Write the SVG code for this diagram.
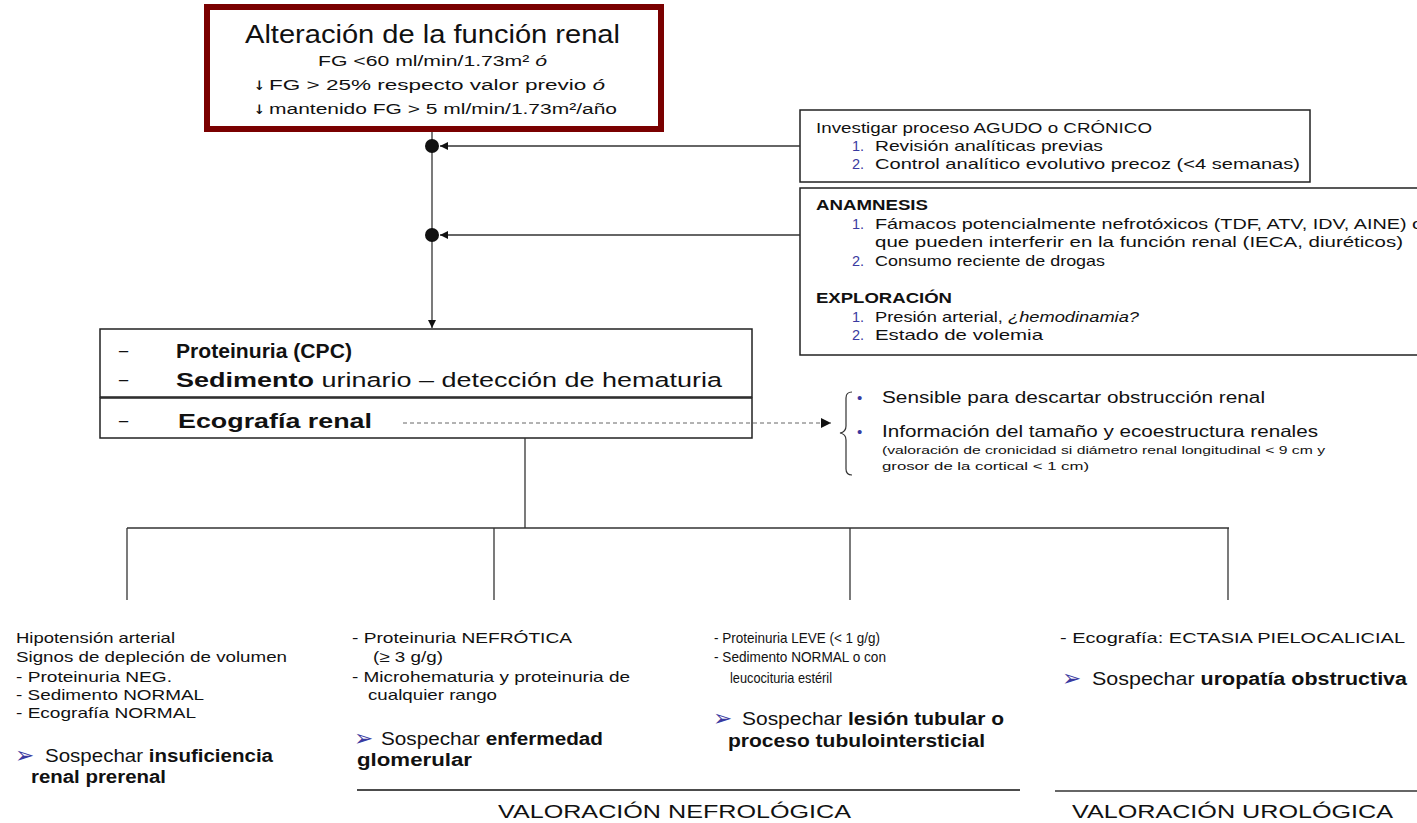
<svg xmlns="http://www.w3.org/2000/svg" width="1417" height="823" viewBox="0 0 1417 823">
<defs>
<style>
text{font-family:"Liberation Sans",Arial,sans-serif;fill:#111}
.b{font-weight:bold}
.num{fill:#3a3aa0}
.box{fill:#fff;stroke:#222;stroke-width:1.5}
.ln{stroke:#333;stroke-width:1.3;fill:none}
.s14{font-size:14.5px}
.s15{font-size:15px}
.dn{font-family:"DejaVu Sans",sans-serif;font-weight:bold;font-size:13px}
.arr{fill:#3a3aa0;font-family:"DejaVu Sans",sans-serif;font-size:23px}
</style>
<marker id="ah" viewBox="0 0 10 10" refX="10" refY="5" markerWidth="8" markerHeight="8" markerUnits="userSpaceOnUse" orient="auto"><path d="M0,0 L10,5 L0,10 z" fill="#111"/></marker>
<marker id="ahs" viewBox="0 0 10 10" refX="10" refY="5" markerWidth="10" markerHeight="10" markerUnits="userSpaceOnUse" orient="auto"><path d="M0,0 L10,5 L0,10 z" fill="#111"/></marker>
</defs>
<rect width="1417" height="823" fill="#fff"/>

<g id="node-alteracion">
<rect x="207" y="7" width="454" height="122" fill="#fff" stroke="#7a0000" stroke-width="6"/>
<text x="245" y="43" font-size="25" textLength="375" lengthAdjust="spacingAndGlyphs">Alteración de la función renal</text>
<text x="318" y="66" font-size="15.5" textLength="229" lengthAdjust="spacingAndGlyphs">FG &lt;60 ml/min/1.73m² <tspan font-style="italic">ó</tspan></text>
<text class="dn" x="254" y="90">↓</text>
<text x="269" y="90" font-size="15.5" textLength="336" lengthAdjust="spacingAndGlyphs">FG &gt; 25% respecto valor previo <tspan font-style="italic">ó</tspan></text>
<text class="dn" x="254" y="114">↓</text>
<text x="269" y="114" font-size="15.5" textLength="348" lengthAdjust="spacingAndGlyphs">mantenido FG &gt; 5 ml/min/1.73m²/año</text>
</g>

<g id="node-investigar">
<rect class="box" x="800" y="110" width="510" height="72"/>
<text class="s14" x="816" y="133" textLength="336" lengthAdjust="spacingAndGlyphs">Investigar proceso AGUDO o CRÓNICO</text>
<text class="s14 num" x="852" y="151">1.</text>
<text class="s14" x="875" y="151" textLength="228" lengthAdjust="spacingAndGlyphs">Revisión analíticas previas</text>
<text class="s14 num" x="852" y="169">2.</text>
<text class="s14" x="875" y="169" textLength="425" lengthAdjust="spacingAndGlyphs">Control analítico evolutivo precoz (&lt;4 semanas)</text>
</g>

<g id="node-anamnesis">
<rect class="box" x="800" y="188" width="630" height="167"/>
<text class="s14 b" x="816" y="210" textLength="112" lengthAdjust="spacingAndGlyphs">ANAMNESIS</text>
<text class="s14 num" x="852" y="229">1.</text>
<text class="s14" x="875" y="229" textLength="548" lengthAdjust="spacingAndGlyphs">Fámacos potencialmente nefrotóxicos (TDF, ATV, IDV, AINE) o</text>
<text class="s14" x="875" y="247" textLength="528" lengthAdjust="spacingAndGlyphs">que pueden interferir en la función renal (IECA, diuréticos)</text>
<text class="s14 num" x="852" y="266">2.</text>
<text class="s14" x="875" y="266" textLength="230" lengthAdjust="spacingAndGlyphs">Consumo reciente de drogas</text>
<text class="s14 b" x="816" y="303" textLength="136" lengthAdjust="spacingAndGlyphs">EXPLORACIÓN</text>
<text class="s14 num" x="852" y="322">1.</text>
<text class="s14" x="875" y="322" textLength="264" lengthAdjust="spacingAndGlyphs">Presión arterial, <tspan font-style="italic">¿hemodinamia?</tspan></text>
<text class="s14 num" x="852" y="340">2.</text>
<text class="s14" x="875" y="340" textLength="168" lengthAdjust="spacingAndGlyphs">Estado de volemia</text>
</g>

<g id="node-pruebas">
<rect class="box" x="100" y="329" width="652" height="68"/>
<text font-size="19" x="118" y="358">−</text>
<text font-size="20.5" class="b" x="176" y="358" textLength="176" lengthAdjust="spacingAndGlyphs">Proteinuria (CPC)</text>
<text font-size="19" x="118" y="387">−</text>
<text font-size="20.5" x="176" y="387" textLength="546" lengthAdjust="spacingAndGlyphs"><tspan class="b">Sedimento</tspan> urinario – detección de hematuria</text>
</g>

<g id="node-ecografia">
<rect class="box" x="100" y="398" width="652" height="40"/>
<text font-size="19" x="118" y="428">−</text>
<text font-size="20.5" class="b" x="178" y="428" textLength="194" lengthAdjust="spacingAndGlyphs">Ecografía renal</text>
</g>

<g id="node-eco-info">
<path d="M852,392 Q846,392 846,398 L846,426 Q846,432 840,433 Q846,434 846,440 L846,469 Q846,475 852,475" fill="none" stroke="#333" stroke-width="1.2"/>
<text font-size="15" x="857" y="403" style="fill:#3a3aa0">•</text>
<text font-size="16" x="882" y="403" textLength="383" lengthAdjust="spacingAndGlyphs">Sensible para descartar obstrucción renal</text>
<text font-size="15" x="857" y="437" style="fill:#3a3aa0">•</text>
<text font-size="16.5" x="882" y="437" textLength="436" lengthAdjust="spacingAndGlyphs">Información del tamaño y ecoestructura renales</text>
<text font-size="11" x="882" y="454" textLength="443" lengthAdjust="spacingAndGlyphs">(valoración de cronicidad si diámetro renal longitudinal &lt; 9 cm y</text>
<text font-size="11" x="882" y="470" textLength="207" lengthAdjust="spacingAndGlyphs">grosor de la cortical &lt; 1 cm)</text>
</g>

<g id="node-prerenal">
<text class="s15" x="16" y="643" textLength="159" lengthAdjust="spacingAndGlyphs">Hipotensión arterial</text>
<text class="s15" x="16" y="662" textLength="271" lengthAdjust="spacingAndGlyphs">Signos de depleción de volumen</text>
<text class="s15" x="16" y="682" textLength="156" lengthAdjust="spacingAndGlyphs">- Proteinuria NEG.</text>
<text class="s15" x="16" y="700" textLength="188" lengthAdjust="spacingAndGlyphs">- Sedimento NORMAL</text>
<text class="s15" x="16" y="718" textLength="180" lengthAdjust="spacingAndGlyphs">- Ecografía NORMAL</text>
<text class="arr" x="15" y="763">➢</text>
<text font-size="17.5" x="45" y="762" textLength="228" lengthAdjust="spacingAndGlyphs">Sospechar <tspan class="b">insuficiencia</tspan></text>
<text font-size="17.5" class="b" x="31" y="783" textLength="135" lengthAdjust="spacingAndGlyphs">renal prerenal</text>
</g>

<g id="node-glomerular">
<text class="s15" x="352" y="643" textLength="220" lengthAdjust="spacingAndGlyphs">- Proteinuria NEFRÓTICA</text>
<text class="s15" x="373" y="662" textLength="70" lengthAdjust="spacingAndGlyphs">(≥ 3 g/g)</text>
<text class="s15" x="352" y="682" textLength="278" lengthAdjust="spacingAndGlyphs">- Microhematuria y proteinuria de</text>
<text class="s15" x="368" y="700" textLength="129" lengthAdjust="spacingAndGlyphs">cualquier rango</text>
<text class="arr" x="354" y="746">➢</text>
<text font-size="17.5" x="381" y="745" textLength="222" lengthAdjust="spacingAndGlyphs">Sospechar <tspan class="b">enfermedad</tspan></text>
<text font-size="17.5" class="b" x="357" y="766" textLength="115" lengthAdjust="spacingAndGlyphs">glomerular</text>
</g>

<g id="node-tubular">
<text class="s15" x="714" y="643" textLength="166" lengthAdjust="spacingAndGlyphs">- Proteinuria LEVE (&lt; 1 g/g)</text>
<text class="s15" x="714" y="662" textLength="172" lengthAdjust="spacingAndGlyphs">- Sedimento NORMAL o con</text>
<text class="s15" x="730" y="683" textLength="102" lengthAdjust="spacingAndGlyphs">leucocituria estéril</text>
<text class="arr" x="713" y="726">➢</text>
<text font-size="17.5" x="742" y="725" textLength="262" lengthAdjust="spacingAndGlyphs">Sospechar <tspan class="b">lesión tubular o</tspan></text>
<text font-size="17.5" class="b" x="728" y="747" textLength="257" lengthAdjust="spacingAndGlyphs">proceso tubulointersticial</text>
</g>

<g id="node-uropatia">
<text class="s15" x="1060" y="643" textLength="345" lengthAdjust="spacingAndGlyphs">- Ecografía: ECTASIA PIELOCALICIAL</text>
<text class="arr" x="1062" y="686">➢</text>
<text font-size="17.5" x="1092" y="685" textLength="315" lengthAdjust="spacingAndGlyphs">Sospechar <tspan class="b">uropatía obstructiva</tspan></text>
</g>

<g id="footer">
<line x1="357" y1="790" x2="1020" y2="790" stroke="#111" stroke-width="1.5"/>
<line x1="1055" y1="791" x2="1417" y2="791" stroke="#333" stroke-width="1.5"/>
<text font-size="19" x="498" y="818" textLength="353" lengthAdjust="spacingAndGlyphs">VALORACIÓN NEFROLÓGICA</text>
<text font-size="19" x="1072" y="818" textLength="321" lengthAdjust="spacingAndGlyphs">VALORACIÓN UROLÓGICA</text>
</g>

<g id="connectors">
<line class="ln" x1="432" y1="132" x2="432" y2="328" marker-end="url(#ah)"/>
<line class="ln" x1="800" y1="146" x2="440" y2="146" marker-end="url(#ah)"/>
<line class="ln" x1="800" y1="235" x2="440" y2="235" marker-end="url(#ah)"/>
<circle cx="432" cy="146" r="7" fill="#111"/>
<circle cx="432" cy="235" r="7" fill="#111"/>
<line x1="403" y1="423" x2="831" y2="423" stroke="#666" stroke-width="1" stroke-dasharray="4,3" marker-end="url(#ahs)"/>
<line class="ln" x1="525" y1="438" x2="525" y2="528"/>
<line class="ln" x1="127" y1="528" x2="1229" y2="528"/>
<line class="ln" x1="127" y1="528" x2="127" y2="600"/>
<line class="ln" x1="494" y1="528" x2="494" y2="600"/>
<line class="ln" x1="850" y1="528" x2="850" y2="600"/>
<line class="ln" x1="1228" y1="528" x2="1228" y2="600"/>
</g>
</svg>
